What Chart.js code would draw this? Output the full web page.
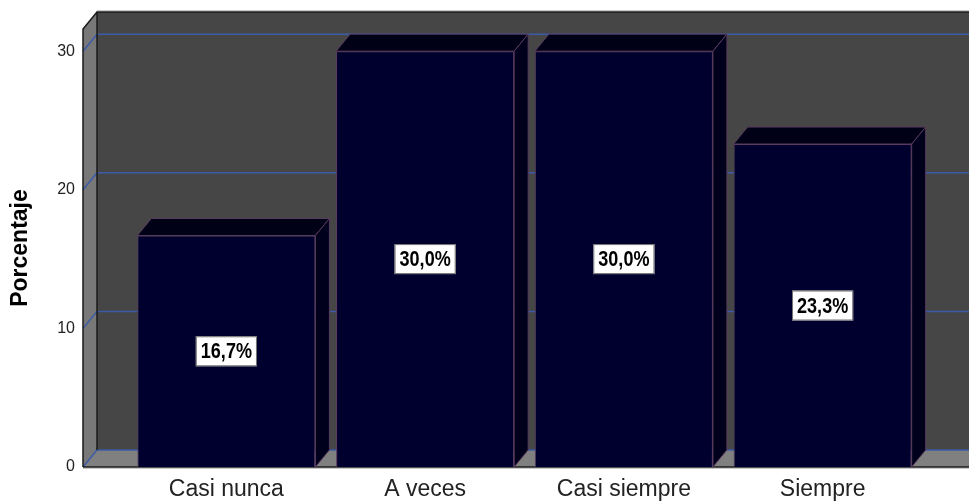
<!DOCTYPE html>
<html>
<head>
<meta charset="utf-8">
<script src="https://cdn.jsdelivr.net/npm/chart.js@4/dist/chart.umd.min.js"></script>
<style>
  body { margin: 0; background: #fff; }
  canvas { display: block; }
</style>
</head>
<body>
<canvas id="grafico" width="969" height="501"></canvas>
<script>
const categorias = ['Casi nunca', 'A veces', 'Casi siempre', 'Siempre'];
const porcentajes = [16.7, 30.0, 30.0, 23.3];
const marcasY = [0, 10, 20, 30];

// profundidad del efecto 3D
const DX = 14, DY = -17;
const ANCHO_PARED = 44;

const fondo3d = {
  id: 'fondo3d',
  beforeDraw(chart) {
    const { ctx, chartArea: a, scales: { y }, width } = chart;
    const fx = a.left - ANCHO_PARED, bx = fx + DX;
    const top = a.top, bot = a.bottom;
    ctx.save();
    // pared del fondo
    ctx.fillStyle = '#464646';
    ctx.fillRect(bx, top + DY, width - bx, bot - top);
    // pared izquierda
    ctx.fillStyle = '#787878';
    ctx.beginPath();
    ctx.moveTo(fx, top); ctx.lineTo(bx, top + DY); ctx.lineTo(bx, bot + DY); ctx.lineTo(fx, bot);
    ctx.closePath(); ctx.fill();
    // suelo
    ctx.fillStyle = '#808080';
    ctx.beginPath();
    ctx.moveTo(fx, bot); ctx.lineTo(bx, bot + DY); ctx.lineTo(width, bot + DY); ctx.lineTo(width, bot);
    ctx.closePath(); ctx.fill();
    // lineas de cuadricula
    ctx.strokeStyle = '#3c5aa8';
    ctx.lineWidth = 1.5;
    marcasY.forEach(v => {
      const py = y.getPixelForValue(v);
      ctx.beginPath();
      ctx.moveTo(fx, py); ctx.lineTo(bx, py + DY); ctx.lineTo(width, py + DY);
      ctx.stroke();
    });
    // bordes
    ctx.strokeStyle = '#1a1a1a';
    ctx.lineWidth = 1.5;
    ctx.beginPath();
    ctx.moveTo(bx, bot + DY); ctx.lineTo(bx, top + DY); ctx.lineTo(width, top + DY);
    ctx.moveTo(fx, bot); ctx.lineTo(fx, top); ctx.lineTo(bx, top + DY);
    ctx.moveTo(fx, bot); ctx.lineTo(width, bot);
    ctx.stroke();
    ctx.strokeStyle = '#c8c8c8';
    ctx.lineWidth = 1;
    ctx.beginPath();
    ctx.moveTo(bx, top + DY - 1.5); ctx.lineTo(width, top + DY - 1.5);
    ctx.moveTo(fx, bot + 1.5); ctx.lineTo(width, bot + 1.5);
    ctx.stroke();
    ctx.restore();
  }
};

const barras3d = {
  id: 'barras3d',
  afterDatasetsDraw(chart) {
    const { ctx } = chart;
    const meta = chart.getDatasetMeta(0);
    ctx.save();
    ctx.lineWidth = 1;
    meta.data.forEach((bar, i) => {
      const l = bar.x - bar.width / 2, r = bar.x + bar.width / 2;
      const t = bar.y, b = bar.base;
      ctx.strokeStyle = '#5a3b5e';
      // cara superior
      ctx.fillStyle = '#000016';
      ctx.beginPath();
      ctx.moveTo(l, t); ctx.lineTo(l + DX, t + DY); ctx.lineTo(r + DX, t + DY); ctx.lineTo(r, t);
      ctx.closePath(); ctx.fill(); ctx.stroke();
      // cara lateral
      ctx.fillStyle = '#00001c';
      ctx.beginPath();
      ctx.moveTo(r, t); ctx.lineTo(r + DX, t + DY); ctx.lineTo(r + DX, b + DY); ctx.lineTo(r, b);
      ctx.closePath(); ctx.fill(); ctx.stroke();

      // etiqueta con el porcentaje (texto estrechado)
      const txt = porcentajes[i].toFixed(1).replace('.', ',') + '%';
      const esc = 0.82;
      ctx.font = 'bold 22px "Liberation Sans", Arial';
      const w = ctx.measureText(txt).width * esc + 10;
      const h = 30;
      const cy = (t + b) / 2;
      ctx.fillStyle = '#fff';
      ctx.fillRect(bar.x - w / 2, cy - h / 2, w, h);
      ctx.strokeStyle = '#6e6e6e';
      ctx.strokeRect(bar.x - w / 2 + 0.5, cy - h / 2 + 0.5, w - 1, h - 1);
      ctx.save();
      ctx.translate(bar.x, cy + 1);
      ctx.scale(esc, 1);
      ctx.fillStyle = '#000';
      ctx.textAlign = 'center';
      ctx.textBaseline = 'middle';
      ctx.fillText(txt, 0, 0);
      ctx.restore();
    });
    ctx.restore();
  }
};

new Chart(document.getElementById('grafico'), {
  type: 'bar',
  data: {
    labels: categorias,
    datasets: [{
      data: porcentajes,
      backgroundColor: '#00002f',
      borderColor: '#5a3b5e',
      borderWidth: 1,
      barPercentage: 0.896,
      categoryPercentage: 1
    }]
  },
  options: {
    responsive: false,
    animation: false,
    layout: { padding: { top: 29, right: 47, left: 0, bottom: 0 } },
    plugins: { legend: { display: false }, tooltip: { enabled: false } },
    scales: {
      x: {
        grid: { display: false, drawTicks: false },
        border: { display: false },
        ticks: { color: '#222', padding: 9, font: { family: '"Liberation Sans", Arial', size: 23 } },
        afterFit(s) { s.height = 34; }
      },
      y: {
        min: 0,
        max: 31.6,
        grid: { display: false, drawTicks: false },
        border: { display: false },
        ticks: {
          stepSize: 10,
          padding: 52,
          color: '#222',
          font: { family: '"Liberation Sans", Arial', size: 16 },
          callback: v => marcasY.includes(v) ? String(v) : ''
        },
        title: {
          display: true,
          text: 'Porcentaje',
          color: '#000',
          padding: { top: 7, bottom: 0 },
          font: { family: '"Liberation Sans", Arial', size: 23, weight: 'bold' }
        },
        afterFit(s) {
          s.width = 127;
          s.paddingTop = 10;
          s.paddingBottom = 10;
        }
      }
    }
  },
  plugins: [fondo3d, barras3d]
});
</script>
</body>
</html>
